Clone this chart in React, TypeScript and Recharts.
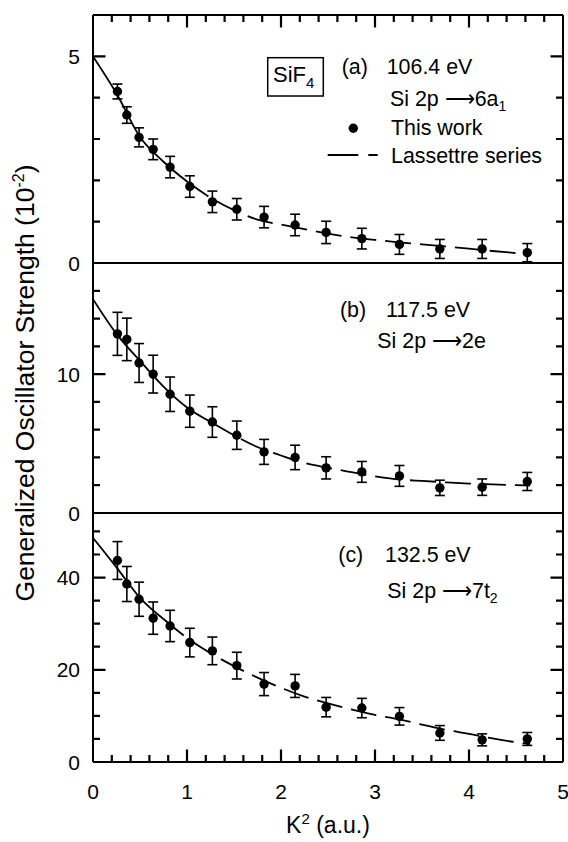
import React from 'react';
import { ComposedChart, Scatter, Line, XAxis, YAxis, ErrorBar } from 'recharts';

// ---------- data ----------
const kSquared = [0.26, 0.36, 0.49, 0.64, 0.82, 1.03, 1.27, 1.53, 1.82, 2.15, 2.48, 2.86, 3.26, 3.69, 4.14, 4.62];

const gosA = [4.15, 3.58, 3.04, 2.75, 2.32, 1.85, 1.48, 1.3, 1.11, 0.92, 0.74, 0.59, 0.45, 0.34, 0.34, 0.25];
const errA = [0.18, 0.2, 0.23, 0.25, 0.26, 0.26, 0.26, 0.26, 0.26, 0.26, 0.27, 0.25, 0.24, 0.23, 0.23, 0.22];

const gosB = [12.9, 12.5, 10.8, 10.0, 8.55, 7.33, 6.55, 5.6, 4.4, 4.0, 3.25, 2.96, 2.67, 1.81, 1.86, 2.27];
const errB = [1.55, 1.53, 1.4, 1.36, 1.24, 1.16, 1.1, 1.02, 0.9, 0.88, 0.8, 0.75, 0.75, 0.55, 0.59, 0.65];

const gosC = [43.7, 38.6, 35.3, 31.2, 29.5, 25.9, 24.1, 20.9, 16.9, 16.5, 11.9, 11.7, 9.9, 6.3, 4.8, 5.0];
const errC = [4.1, 3.8, 3.7, 3.5, 3.4, 3.1, 3.0, 2.9, 2.5, 2.5, 2.1, 2.1, 1.9, 1.6, 1.3, 1.4];

// Lassettre series curves
const fitK = [0, 0.25, 0.5, 0.75, 1.0, 1.25, 1.5, 1.75, 2.0, 2.25, 2.5, 2.75, 3.0, 3.25, 3.5, 3.75, 4.0, 4.25, 4.5, 4.65];
const fitA = [5.0, 4.1, 3.05, 2.45, 1.97, 1.58, 1.28, 1.05, 0.93, 0.82, 0.71, 0.62, 0.56, 0.5, 0.45, 0.4, 0.35, 0.29, 0.24, 0.21];
const fitB = [15.4, 12.9, 10.95, 9.1, 7.6, 6.57, 5.6, 4.75, 4.14, 3.6, 3.25, 2.94, 2.64, 2.42, 2.31, 2.21, 2.12, 2.06, 2.01, 1.98];
const fitC = [48.6, 42.2, 35.6, 31.0, 26.9, 23.6, 20.8, 18.3, 16.1, 14.2, 12.7, 11.4, 10.2, 9.3, 8.1, 7.0, 6.1, 5.1, 4.3, 3.9];

const xMinorTicks = [0.2, 0.4, 0.6, 0.8, 1.2, 1.4, 1.6, 1.8, 2.2, 2.4, 2.6, 2.8, 3.2, 3.4, 3.6, 3.8, 4.2, 4.4, 4.6, 4.8];
const xMajorTicks = [0, 1, 2, 3, 4, 5];

const yMinorA = [1, 2, 3, 4];
const yMajorA = [0, 5];
const yMinorB = [2, 4, 6, 8, 12, 14, 16];
const yMajorB = [0, 10];
const yMinorC = [5, 10, 15, 25, 30, 35, 45, 50];
const yMajorC = [0, 20, 40];

// ---------- layout ----------
const W = 568;
const H = 842;
const LEFT = 93;
const RIGHT = 563;
const X_DOMAIN: [number, number] = [0, 5];
const FONT = "'Liberation Sans', Arial, Helvetica, sans-serif";
const AXIS = { stroke: '#000', strokeWidth: 2 };
const MAJOR_LEN = 12.5; // px
const MINOR_LEN = 7; // px
const TICK_W = 2.2;

type PanelCfg = {
  top: number;
  bottom: number;
  domain: [number, number];
  yMinor: number[];
  yMajor: number[];
  gos: number[];
  err: number[];
  fit: number[];
  solidEnd: number;
  topTicks: boolean;
  bottomTicks: boolean;
};

const panels: PanelCfg[] = [
  { top: 15, bottom: 263, domain: [0, 6], yMinor: yMinorA, yMajor: yMajorA, gos: gosA, err: errA, fit: fitA, solidEnd: 1.0, topTicks: true, bottomTicks: false },
  { top: 263, bottom: 513, domain: [0, 18], yMinor: yMinorB, yMajor: yMajorB, gos: gosB, err: errB, fit: fitB, solidEnd: 1.25, topTicks: false, bottomTicks: false },
  { top: 513, bottom: 762, domain: [0, 54], yMinor: yMinorC, yMajor: yMajorC, gos: gosC, err: errC, fit: fitC, solidEnd: 0.75, topTicks: false, bottomTicks: true },
];

const leftLabel = (t: any) => (
  <text x={t.x - 13} y={t.y + 7.5} textAnchor="end" fontSize={21} fontFamily={FONT} fill="#000">
    {t.payload.value}
  </text>
);
const bottomLabel = (t: any) => (
  <text x={t.x} y={t.y + 37} textAnchor="middle" fontSize={21} fontFamily={FONT} fill="#000">
    {t.payload.value}
  </text>
);
const emptyTick = () => <g />;

function Panel({ cfg }: { cfg: PanelCfg }) {
  const points = kSquared.map((k, i) => ({ k, v: cfg.gos[i], e: cfg.err[i] }));
  const fit = fitK.map((k, i) => ({ k, v: cfg.fit[i] }));
  const solid = fit.filter((d) => d.k <= cfg.solidEnd);
  const dashed = fit.filter((d) => d.k >= cfg.solidEnd);

  const yCommon = {
    type: 'number' as const,
    domain: cfg.domain,
    allowDataOverflow: true,
    mirror: true,
    interval: 0 as const,
    tickLine: false,
    tickSize: 0,
    tickMargin: 0,
    axisLine: AXIS,
  };
  const xCommon = {
    type: 'number' as const,
    dataKey: 'k',
    domain: X_DOMAIN,
    allowDataOverflow: true,
    mirror: true,
    interval: 0 as const,
    tickLine: false,
    tickSize: 0,
    tickMargin: 0,
  };

  return (
    <div style={{ position: 'absolute', left: 0, top: 0 }}>
      <ComposedChart
        width={W}
        height={H}
        margin={{ top: cfg.top, bottom: H - cfg.bottom, left: LEFT, right: W - RIGHT }}
      >
        <XAxis
          xAxisId="b"
          orientation="bottom"
          {...xCommon}
          ticks={cfg.bottomTicks ? xMajorTicks : [0, 5]}
          tick={cfg.bottomTicks ? bottomLabel : emptyTick}
          axisLine={AXIS}
        />
        <XAxis
          xAxisId="t"
          orientation="top"
          {...xCommon}
          ticks={[0, 5]}
          tick={emptyTick}
          axisLine={cfg.topTicks ? AXIS : false}
        />
        <YAxis yAxisId="l" orientation="left" {...yCommon} ticks={cfg.yMajor} tick={leftLabel} />
        <YAxis yAxisId="r" orientation="right" {...yCommon} ticks={cfg.yMajor} tick={emptyTick} />

        <Line
          xAxisId="b"
          yAxisId="l"
          data={solid}
          dataKey="v"
          type="monotone"
          stroke="#000"
          strokeWidth={1.8}
          dot={false}
          activeDot={false}
          isAnimationActive={false}
        />
        <Line
          xAxisId="t"
          yAxisId="r"
          data={dashed}
          dataKey="v"
          type="monotone"
          stroke="#000"
          strokeWidth={1.8}
          strokeDasharray="26 9"
          dot={false}
          activeDot={false}
          isAnimationActive={false}
        />
        <Scatter
          xAxisId="b"
          yAxisId="l"
          data={points}
          dataKey="v"
          fill="#000"
          isAnimationActive={false}
          shape={(s: any) => <circle cx={s.cx} cy={s.cy} r={4.7} fill="#000" />}
        >
          <ErrorBar dataKey="e" direction="y" width={5} stroke="#000" strokeWidth={1.6} />
        </Scatter>
      </ComposedChart>
    </div>
  );
}

// inward tick marks on the frame (same linear mapping the chart margins define)
function FrameTicks() {
  const xPx = (k: number) => LEFT + ((k - X_DOMAIN[0]) / (X_DOMAIN[1] - X_DOMAIN[0])) * (RIGHT - LEFT);
  const segs: string[] = [];
  panels.forEach((p) => {
    const [y0, y1] = p.domain;
    const yPx = (v: number) => p.bottom - ((v - y0) / (y1 - y0)) * (p.bottom - p.top);
    const yMarks = [
      ...p.yMajor.filter((v) => v !== y0).map((v) => ({ v, len: MAJOR_LEN })),
      ...p.yMinor.map((v) => ({ v, len: MINOR_LEN })),
    ];
    yMarks.forEach(({ v, len }) => {
      const y = yPx(v);
      segs.push(`M${LEFT},${y}h${len}`);
      segs.push(`M${RIGHT},${y}h${-len}`);
    });
    const xMarks = [
      ...xMajorTicks.filter((k) => k > X_DOMAIN[0] && k < X_DOMAIN[1]).map((k) => ({ k, len: MAJOR_LEN })),
      ...xMinorTicks.map((k) => ({ k, len: MINOR_LEN })),
    ];
    xMarks.forEach(({ k, len }) => {
      const x = xPx(k);
      if (p.bottomTicks) segs.push(`M${x},${p.bottom}v${-len}`);
      if (p.topTicks) segs.push(`M${x},${p.top}v${len}`);
    });
  });
  return (
    <svg width={W} height={H} style={{ position: 'absolute', left: 0, top: 0, pointerEvents: 'none' }}>
      <path d={segs.join('')} stroke="#000" strokeWidth={TICK_W} fill="none" />
    </svg>
  );
}

function Annotations() {
  const fs = 21.4;
  return (
    <svg
      width={W}
      height={H}
      style={{ position: 'absolute', left: 0, top: 0, pointerEvents: 'none' }}
      fontFamily={FONT}
      fill="#000"
    >
      {/* axis titles */}
      <text transform="translate(33.5,383) rotate(-90)" textAnchor="middle" fontSize={26.5}>
        Generalized Oscillator Strength (10
        <tspan dy={-10} fontSize={16}>-2</tspan>
        <tspan dy={10}>)</tspan>
      </text>
      <text x={328} y={833} textAnchor="middle" fontSize={23}>
        K<tspan dy={-9} fontSize={15}>2</tspan>
        <tspan dy={9}> (a.u.)</tspan>
      </text>

      {/* panel (a) */}
      <rect x={267.7} y={57.7} width={55.6} height={38.3} fill="none" stroke="#000" strokeWidth={1.5} />
      <text x={273} y={81.7} fontSize={22}>
        SiF<tspan dy={6} fontSize={15}>4</tspan>
      </text>
      <text x={341.7} y={74.3} fontSize={fs}>(a)</text>
      <text x={386.7} y={74.3} fontSize={fs}>106.4 eV</text>
      <text x={390} y={106} fontSize={fs}>
        Si 2p ⟶6a<tspan dy={5} fontSize={14}>1</tspan>
      </text>
      <circle cx={353.3} cy={128.3} r={4.7} fill="#000" />
      <text x={391} y={135} fontSize={fs}>This work</text>
      <line x1={327.7} y1={155} x2={358.3} y2={155} stroke="#000" strokeWidth={2} />
      <line x1={368.3} y1={155} x2={377.7} y2={155} stroke="#000" strokeWidth={2} />
      <text x={391} y={162.7} fontSize={fs}>Lassettre series</text>

      {/* panel (b) */}
      <text x={340} y={316.7} fontSize={fs}>(b)</text>
      <text x={386} y={316.7} fontSize={fs}>117.5 eV</text>
      <text x={377.3} y={348.3} fontSize={fs}>Si 2p ⟶2e</text>

      {/* panel (c) */}
      <text x={338.3} y={561.7} fontSize={fs}>(c)</text>
      <text x={385} y={561.7} fontSize={fs}>132.5 eV</text>
      <text x={387.3} y={598.3} fontSize={fs}>
        Si 2p ⟶7t<tspan dy={5} fontSize={14}>2</tspan>
      </text>
    </svg>
  );
}

export default function App() {
  return (
    <div
      style={{
        position: 'absolute',
        left: 0,
        top: 0,
        width: W,
        height: H,
        background: '#fff',
        fontFamily: FONT,
      }}
    >
      {panels.map((p, i) => (
        <Panel key={i} cfg={p} />
      ))}
      <FrameTicks />
      <Annotations />
    </div>
  );
}
